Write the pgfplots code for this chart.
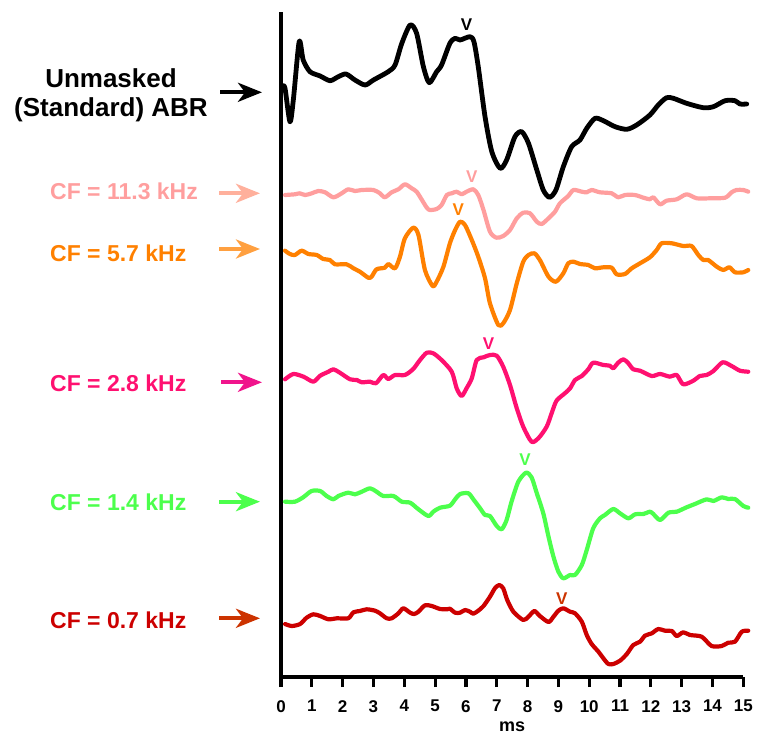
\documentclass[border=0pt]{standalone}
\usepackage{pgfplots}
\pgfplotsset{compat=1.18}
\usepackage{fontspec}
\setmainfont{Liberation Sans}
\usetikzlibrary{arrows.meta}
\definecolor{cPinkL}{HTML}{FF9E9E}
\definecolor{cPinkA}{HTML}{FFB09C}
\definecolor{cOrange}{HTML}{FF8000}
\definecolor{cOrangeA}{HTML}{FFA040}
\definecolor{cMag}{HTML}{FF1070}
\definecolor{cMagA}{HTML}{F0148C}
\definecolor{cGreen}{HTML}{4CFF4C}
\definecolor{cRed}{HTML}{CC0000}
\definecolor{cRedA}{HTML}{CC3300}
\begin{document}
\begin{tikzpicture}[x=1pt,y=1pt]
\path[use as bounding box] (0,0) rectangle (757,-735);
\begin{axis}[
  at={(281pt,-677pt)}, anchor=south west,
  width=462.3pt, height=665pt, scale only axis,
  xmin=0, xmax=15, ymin=-677, ymax=-12,
  clip=false,
  axis x line=bottom, axis y line=left,
  axis line style={-, line width=3.2pt, black},
  every outer x axis line/.append style={-, line width=3.2pt, black},
  every outer y axis line/.append style={-, line width=3.2pt, black},
  xtick={0,1,...,15}, ytick=\empty,
  tick align=outside, major tick length=10pt,
  every tick/.style={black, line width=3.2pt},
  every major tick/.append style={black, line width=3.2pt},
  every x tick/.append style={black, line width=3.2pt},
  xtick style={black, line width=3.2pt},
  /pgf/number format/assume math mode=true,
  xticklabel style={font=\fontsize{17}{17}\selectfont\bfseries, inner sep=1pt, yshift=-12pt},
  xlabel={ms}, xlabel style={font=\fontsize{18}{18}\selectfont\bfseries, at={(axis description cs:0.5,0)}, anchor=center, yshift=-50pt},
  every axis plot/.append style={smooth, tension=0.45, line join=round, line cap=round},
]
% Unmasked (black)
\addplot[black, line width=4.8pt] coordinates {
(0.05,-86) (0.13,-88.3) (0.29,-121.7) (0.40,-100) (0.59,-41.7) (0.72,-60) (0.94,-71.7)
(1.27,-76) (1.59,-80.7) (1.86,-76.7) (2.11,-74) (2.40,-80) (2.73,-85) (3.00,-80)
(3.48,-71.7) (3.70,-65) (3.92,-43.3) (4.19,-25) (4.40,-33.3) (4.62,-66.7) (4.81,-82.7)
(5.05,-71.7) (5.21,-65) (5.48,-43.3) (5.65,-38.3) (5.81,-40) (6.13,-36.7) (6.26,-41.7)
(6.40,-66.7) (6.62,-116.7) (6.84,-151.7) (7.11,-168.3) (7.32,-160) (7.59,-136.7)
(7.81,-131.7) (8.03,-143.3) (8.30,-170) (8.51,-190) (8.71,-197.3) (8.92,-190)
(9.16,-166.7) (9.43,-146.7) (9.70,-140) (9.92,-128.3) (10.19,-118.3) (10.46,-120.7)
(10.84,-126.7) (11.22,-129.3) (11.54,-125) (11.97,-115) (12.24,-105) (12.51,-97.7)
(12.73,-98.3) (13.16,-103.3) (13.70,-107.7) (14.03,-106.7) (14.41,-100.7) (14.73,-100.7)
(14.89,-104) (15.11,-104)
};
% CF = 11.3 kHz
\addplot[cPinkL, line width=4.2pt] coordinates {
(0.13,-195) (0.45,-194.3) (0.61,-193.3) (0.78,-195) (1.00,-193.3) (1.21,-191) (1.43,-192.3)
(1.70,-197.3) (1.97,-193.3) (2.18,-189.3) (2.40,-191) (2.62,-190) (3.00,-190) (3.21,-193.3)
(3.37,-197.3) (3.59,-192.3) (3.81,-189.3) (4.02,-184.3) (4.24,-188.3) (4.40,-191.7)
(4.56,-199.3) (4.73,-207.7) (4.83,-210) (5.05,-209) (5.21,-205) (5.38,-195) (5.54,-193.3)
(5.70,-191.7) (5.86,-194.3) (6.02,-191.7) (6.24,-189.3) (6.40,-195) (6.57,-210)
(6.78,-231.7) (6.99,-237.7) (7.21,-236) (7.43,-230) (7.65,-218.3) (7.86,-212.7)
(8.08,-213.3) (8.30,-221.7) (8.46,-224) (8.68,-218.3) (8.89,-211.7) (9.05,-203.3)
(9.32,-196) (9.49,-190) (9.76,-191.7) (9.92,-192.3) (10.08,-190) (10.35,-192.3)
(10.73,-193.3) (10.94,-197.3) (11.16,-195) (11.48,-195) (11.76,-197.7) (11.97,-199.3)
(12.08,-197.3) (12.30,-204.3) (12.51,-200.7) (12.84,-199.3) (13.16,-194.3) (13.49,-198.3)
(13.92,-198.3) (14.41,-197.7) (14.62,-192.3) (14.78,-190) (15.00,-190) (15.16,-191.7)
};
% CF = 5.7 kHz
\addplot[cOrange, line width=4.2pt] coordinates {
(0.13,-250.7) (0.29,-254) (0.45,-255) (0.67,-250.7) (0.89,-254) (1.16,-255) (1.37,-259)
(1.59,-260) (1.75,-264.3) (2.13,-264.3) (2.35,-268.3) (2.56,-271.7) (2.83,-277.7)
(2.94,-276.7) (3.10,-269.3) (3.37,-267.7) (3.48,-264) (3.70,-268.3) (3.86,-256.7)
(4.02,-238.3) (4.29,-227.7) (4.46,-235) (4.67,-270) (4.92,-286) (5.05,-281.7)
(5.27,-266.7) (5.48,-243.3) (5.65,-230) (5.81,-221.7) (5.97,-225) (6.19,-240)
(6.40,-256.7) (6.62,-278.3) (6.78,-303.3) (7.05,-325) (7.21,-323.3) (7.43,-310)
(7.65,-283.3) (7.86,-261.7) (8.03,-255) (8.22,-253.3) (8.40,-260) (8.68,-276.7)
(8.92,-281.7) (9.16,-273.3) (9.32,-263.3) (9.49,-261.7) (9.70,-264) (9.97,-265)
(10.19,-268.3) (10.46,-267.3) (10.73,-267.7) (10.89,-274.3) (11.16,-274) (11.38,-268.3)
(11.65,-263.3) (11.97,-257.3) (12.19,-250) (12.35,-243.3) (12.68,-243.3) (13.05,-246)
(13.32,-246) (13.54,-255) (13.70,-260) (13.86,-260) (14.14,-266.7) (14.35,-270)
(14.55,-267.3) (14.73,-272.3) (15.00,-272.3) (15.16,-270)
};
% CF = 2.8 kHz
\addplot[cMag, line width=4.2pt] coordinates {
(0.13,-379.3) (0.40,-374) (0.73,-376.7) (1.05,-381.7) (1.27,-375.7) (1.54,-371.7)
(1.70,-369.3) (1.91,-372.7) (2.24,-379.3) (2.46,-380) (2.62,-382.3) (2.89,-381.7)
(3.08,-383.3) (3.32,-375) (3.48,-379) (3.70,-375) (4.02,-375) (4.29,-369) (4.51,-360)
(4.73,-352.7) (4.94,-353.3) (5.21,-360) (5.54,-371.7) (5.70,-388.3) (5.86,-396)
(6.02,-388.3) (6.19,-378.3) (6.35,-360) (6.57,-357.3) (6.78,-355) (7.00,-355.7)
(7.21,-366.7) (7.43,-385) (7.65,-408.3) (7.86,-426.7) (8.13,-441.7) (8.35,-438.3)
(8.62,-426.7) (8.78,-413.3) (8.94,-400.7) (9.21,-393.3) (9.38,-388.3) (9.54,-380)
(9.76,-376) (9.97,-369.3) (10.13,-362.7) (10.46,-365) (10.67,-365.7) (10.78,-368.3)
(10.94,-362.7) (11.11,-359.3) (11.27,-363.3) (11.43,-369.3) (11.65,-370.7) (12.03,-376)
(12.30,-374) (12.62,-376.7) (12.84,-375) (13.05,-384.3) (13.38,-380.7) (13.59,-376)
(13.81,-375) (14.03,-371) (14.33,-362.3) (14.62,-366) (14.89,-370.7) (15.16,-371.7)
};
% CF = 1.4 kHz
\addplot[cGreen, line width=4.2pt] coordinates {
(0.13,-501.7) (0.45,-501.7) (0.72,-497.3) (0.99,-491) (1.27,-491) (1.48,-496) (1.70,-499.3)
(1.86,-496) (2.18,-492.7) (2.40,-494.3) (2.62,-491.7) (2.89,-488.3) (3.10,-491.7)
(3.32,-496) (3.65,-496) (3.92,-501.7) (4.19,-502.7) (4.46,-509.3) (4.78,-516)
(4.94,-511.7) (5.16,-507.7) (5.48,-505.7) (5.65,-499.3) (5.81,-494) (6.08,-493.3)
(6.24,-499.3) (6.46,-508.3) (6.62,-515) (6.78,-516) (7.00,-526) (7.16,-529.3)
(7.32,-520) (7.48,-501.7) (7.70,-481.7) (7.95,-472.7) (8.13,-477.3) (8.30,-493.3)
(8.51,-513.3) (8.68,-536.7) (8.84,-556.7) (9.00,-571.7) (9.16,-578.3) (9.38,-575)
(9.54,-575) (9.76,-565) (9.92,-550) (10.13,-528.3) (10.35,-518.3) (10.51,-515)
(10.78,-509) (11.00,-513.3) (11.27,-518.3) (11.49,-514.3) (11.76,-514) (11.97,-511.7)
(12.08,-514) (12.30,-520) (12.57,-512.7) (12.84,-511.7) (13.16,-507.3) (13.43,-504)
(13.81,-499.3) (14.03,-501) (14.30,-497.3) (14.51,-499) (14.73,-499) (15.00,-506)
(15.16,-507.7)
};
% CF = 0.7 kHz
\addplot[cRed, line width=4.2pt] coordinates {
(0.13,-624) (0.35,-626) (0.62,-624) (0.83,-617.7) (1.05,-614.3) (1.27,-616) (1.54,-619.3)
(1.81,-618.3) (2.18,-618.3) (2.35,-612.3) (2.56,-611) (2.78,-609.3) (3.05,-610.7)
(3.21,-613.3) (3.43,-618.3) (3.59,-618.3) (3.81,-613.3) (3.97,-608.3) (4.19,-612.7)
(4.32,-614) (4.46,-611.7) (4.67,-605.3) (4.89,-606) (5.16,-609) (5.38,-609.3)
(5.48,-608.7) (5.65,-612.7) (5.81,-612.7) (5.97,-610) (6.13,-611.7) (6.24,-613.7)
(6.40,-610.7) (6.57,-606) (6.78,-596.7) (6.94,-588.3) (7.08,-585) (7.21,-588.3)
(7.34,-600) (7.54,-611.7) (7.86,-620) (8.03,-616.7) (8.22,-611) (8.40,-616)
(8.68,-622) (8.84,-616.7) (9.00,-610.7) (9.16,-608.3) (9.38,-611.7) (9.54,-613.3)
(9.76,-621.7) (9.92,-635) (10.08,-644) (10.30,-651.7) (10.46,-658.3) (10.62,-664)
(10.78,-664) (11.00,-660.7) (11.22,-654) (11.43,-645) (11.65,-641.7) (11.81,-635.7)
(12.03,-633.3) (12.24,-629) (12.46,-630.7) (12.68,-631) (12.84,-636) (13.05,-632.3)
(13.27,-635) (13.65,-636.7) (13.97,-646) (14.30,-646) (14.51,-642.7) (14.73,-641.7)
(14.95,-631.7) (15.16,-630.7)
};
% wave V markers
\begin{scope}[every node/.style={font=\fontsize{17}{17}\selectfont\bfseries, inner sep=0pt}]
\node[black]  at (axis cs:6.02,-25)    {V};
\node[cPinkL] at (axis cs:6.19,-177)   {V};
\node[cOrange] at (axis cs:5.75,-210)  {V};
\node[cMag]   at (axis cs:6.73,-343.5) {V};
\node[cGreen] at (axis cs:7.92,-460)   {V};
\node[cRedA]  at (axis cs:9.11,-598.5) {V};
\end{scope}
\end{axis}
% labels on the left
\node[black, align=center, font=\fontsize{26}{29}\selectfont\bfseries, inner sep=0pt] at (111,-95.5) {Unmasked\\(Standard) ABR};
\begin{scope}[every node/.style={font=\fontsize{23}{26}\selectfont\bfseries, inner sep=0pt}]
\node[cPinkL, anchor=west] at (50,-191.7) {CF = 11.3 kHz};
\node[cOrange, anchor=west] at (50,-253.3) {CF = 5.7 kHz};
\node[cMag, anchor=west] at (50,-383.3) {CF = 2.8 kHz};
\node[cGreen, anchor=west] at (50,-502.7) {CF = 1.4 kHz};
\node[cRed, anchor=west] at (50,-620) {CF = 0.7 kHz};
\end{scope}
\begin{scope}[line width=3.8pt, -{Stealth[length=24pt,width=19pt,inset=7pt]}]
\draw[black] (220,-92.3) -- (262,-92.3);
\draw[cPinkA] (219,-193.3) -- (260,-193.3);
\draw[cOrangeA] (219,-249) -- (260,-249);
\draw[cMagA] (221,-382.3) -- (262,-382.3);
\draw[cGreen] (219,-501.7) -- (260,-501.7);
\draw[cRedA] (219,-618.3) -- (260,-618.3);
\end{scope}
\end{tikzpicture}
\end{document}
